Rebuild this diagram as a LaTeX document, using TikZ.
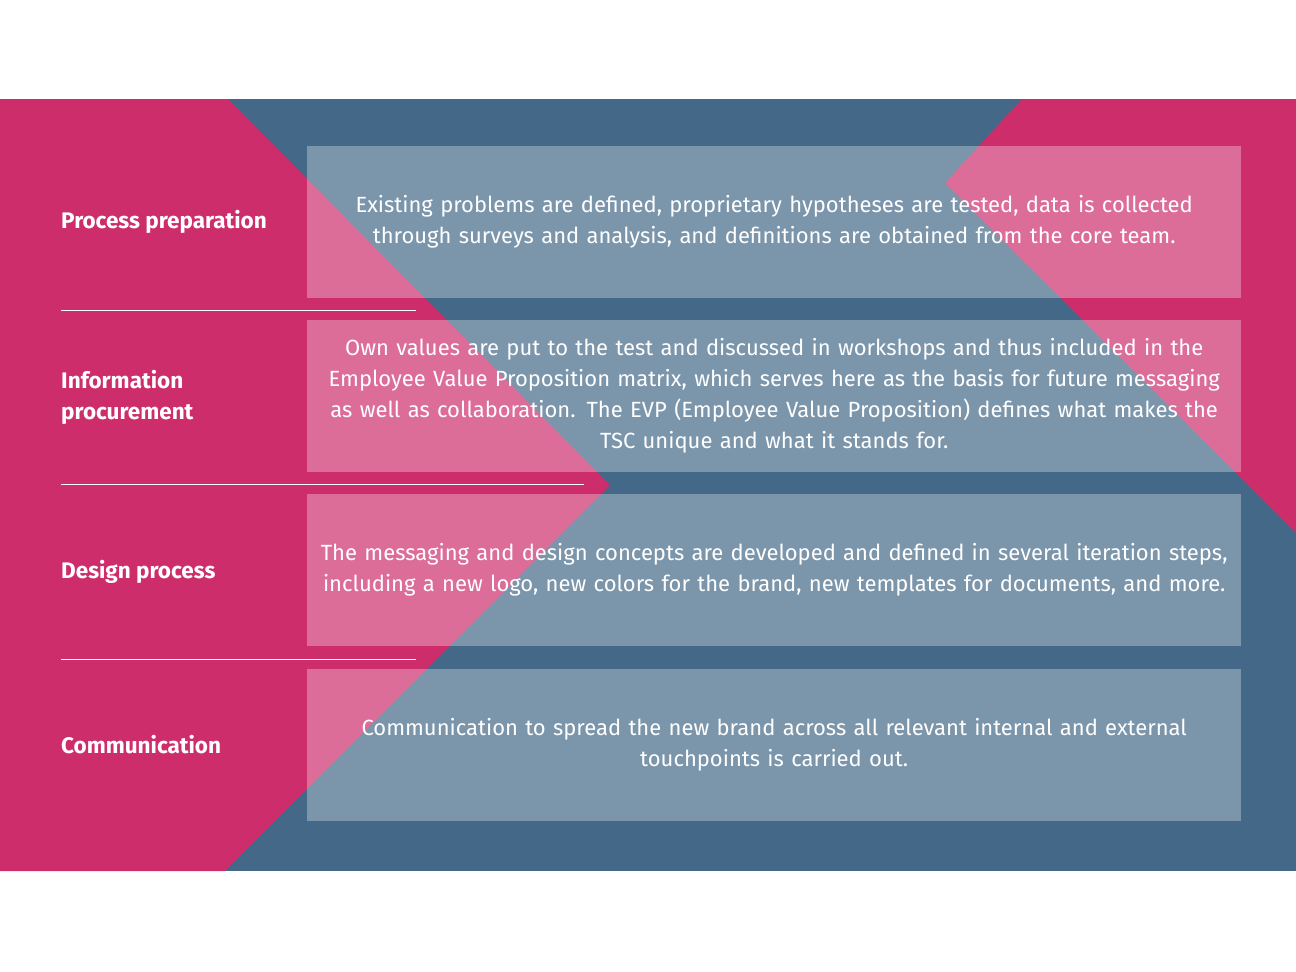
\documentclass[tikz,border=0pt]{standalone}
\usepackage{fontspec}
\setmainfont{Fira Sans}
\definecolor{tpink}{HTML}{CE2D6C}
\definecolor{tblue}{HTML}{436888}
\tikzset{
  stepbox/.style={fill=white, fill opacity=0.3, text opacity=1, minimum width=934pt,
    minimum height=152pt, anchor=north west, inner sep=0pt, align=center,
    text width=930pt, text=white, font=\fontsize{22}{31}\selectfont},
  steplabel/.style={anchor=west, text=white, align=left, inner sep=0pt,
    font=\fontsize{22.5}{31}\selectfont\bfseries},
  sepline/.style={white, line width=1pt}
}
\begin{document}
\begin{tikzpicture}[x=1pt,y=-1pt]
  \useasboundingbox (0,0) rectangle (1296,972);
  % background band
  \fill[tblue] (0,99) rectangle (1296,871);
  \fill[tpink] (0,99) -- (228,99) -- (610,485) -- (225,871) -- (0,871) -- cycle;
  \fill[tpink] (1022,99) -- (1296,99) -- (1296,533) -- (945,183) -- cycle;

  % boxes
  \node[stepbox] (b1) at (307,146) {Existing problems are defined, proprietary hypotheses are tested, data is collected\\ through surveys and analysis, and definitions are obtained from the core team.};
  \node[stepbox] (b2) at (307,320) {Own values are put to the test and discussed in workshops and thus included in the\\ Employee Value Proposition matrix, which serves here as the basis for future messaging\\ as well as collaboration. The EVP (Employee Value Proposition) defines what makes the\\ TSC unique and what it stands for.};
  \node[stepbox] (b3) at (307,494) {The messaging and design concepts are developed and defined in several iteration steps,\\ including a new logo, new colors for the brand, new templates for documents, and more.};
  \node[stepbox] (b4) at (307,669) {Communication to spread the new brand across all relevant internal and external\\ touchpoints is carried out.};

  % labels
  \node[steplabel] (l1) at (61,222) {Process preparation};
  \node[steplabel] (l2) at (61,397) {Information\\ procurement};
  \node[steplabel] (l3) at (61,572) {Design process};
  \node[steplabel] (l4) at (61,745) {Communication};

  % separators
  \draw[sepline] (61,310) -- (416,310);
  \draw[sepline] (61,484) -- (584,484);
  \draw[sepline] (61,659) -- (416,659);
\end{tikzpicture}
\end{document}
